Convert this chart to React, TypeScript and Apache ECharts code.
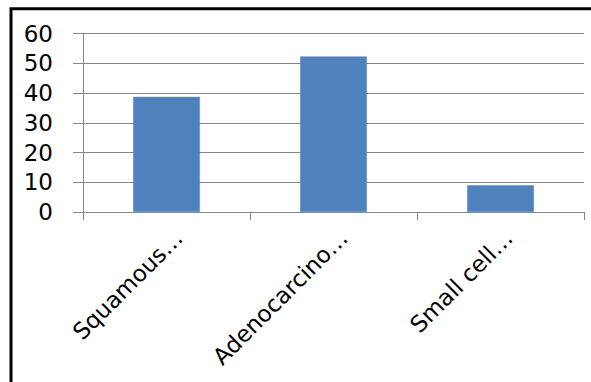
import React, { useEffect, useRef } from "react";
import * as echarts from "echarts";

const categories = ["Squamous…", "Adenocarcino…", "Small cell…"];
const values = [38.7, 52.3, 9.0];
const yTicks = { min: 0, max: 60, interval: 10 };

export default function App() {
  const ref = useRef<HTMLDivElement>(null);
  useEffect(() => {
    document.body.style.margin = "0";
    const chart = echarts.init(ref.current!, null, { renderer: "svg" });
    const font = "DejaVu Sans";
    const gridBase = { top: 33.5, bottom: 170, containLabel: false };
    const labelShift = 13;
    chart.setOption({
      animation: false,
      backgroundColor: "#ffffff",
      grid: [
        { ...gridBase, left: 83, right: 7 },
        { ...gridBase, left: 83 + labelShift, right: 7 - labelShift },
      ],
      graphic: [
        {
          type: "rect",
          shape: { x: 11, y: 8.7, width: 640, height: 420 },
          style: { fill: "none", stroke: "#000", lineWidth: 3 },
          silent: true,
        },
      ],
      xAxis: [
        {
          type: "category",
          gridIndex: 0,
          data: categories,
          boundaryGap: true,
          axisLine: { show: true, lineStyle: { color: "#868686", width: 1 } },
          axisTick: { show: true, interval: 0, length: 8, lineStyle: { color: "#868686" } },
          axisLabel: { show: false },
        },
        {
          type: "category",
          gridIndex: 1,
          data: categories,
          boundaryGap: true,
          axisLine: { show: false },
          axisTick: { show: false },
          splitLine: { show: false },
          axisLabel: {
            interval: 0,
            rotate: 45,
            margin: 22,
            fontSize: 23,
            fontFamily: font,
            color: "#000",
          },
        },
      ],
      yAxis: [
        {
          type: "value",
          gridIndex: 0,
          min: yTicks.min,
          max: yTicks.max,
          interval: yTicks.interval,
          axisLine: { show: true, lineStyle: { color: "#868686", width: 1 } },
          axisTick: { show: true, length: 10, lineStyle: { color: "#868686" } },
          splitLine: { show: true, lineStyle: { color: "#868686", width: 1 } },
          axisLabel: { margin: 30, fontSize: 23, fontFamily: font, color: "#000" },
        },
        {
          type: "value",
          gridIndex: 1,
          min: yTicks.min,
          max: yTicks.max,
          interval: yTicks.interval,
          show: false,
        },
      ],
      series: [
        {
          type: "bar",
          xAxisIndex: 0,
          yAxisIndex: 0,
          data: values,
          barWidth: "40%",
          itemStyle: { color: "#4F81BD", borderColor: "#5b8cc6", borderWidth: 0.5 },
        },
      ],
    });
    return () => chart.dispose();
  }, []);
  return <div ref={ref} style={{ position: "absolute", left: 0, top: 0, width: 591, height: 382 }} />;
}
